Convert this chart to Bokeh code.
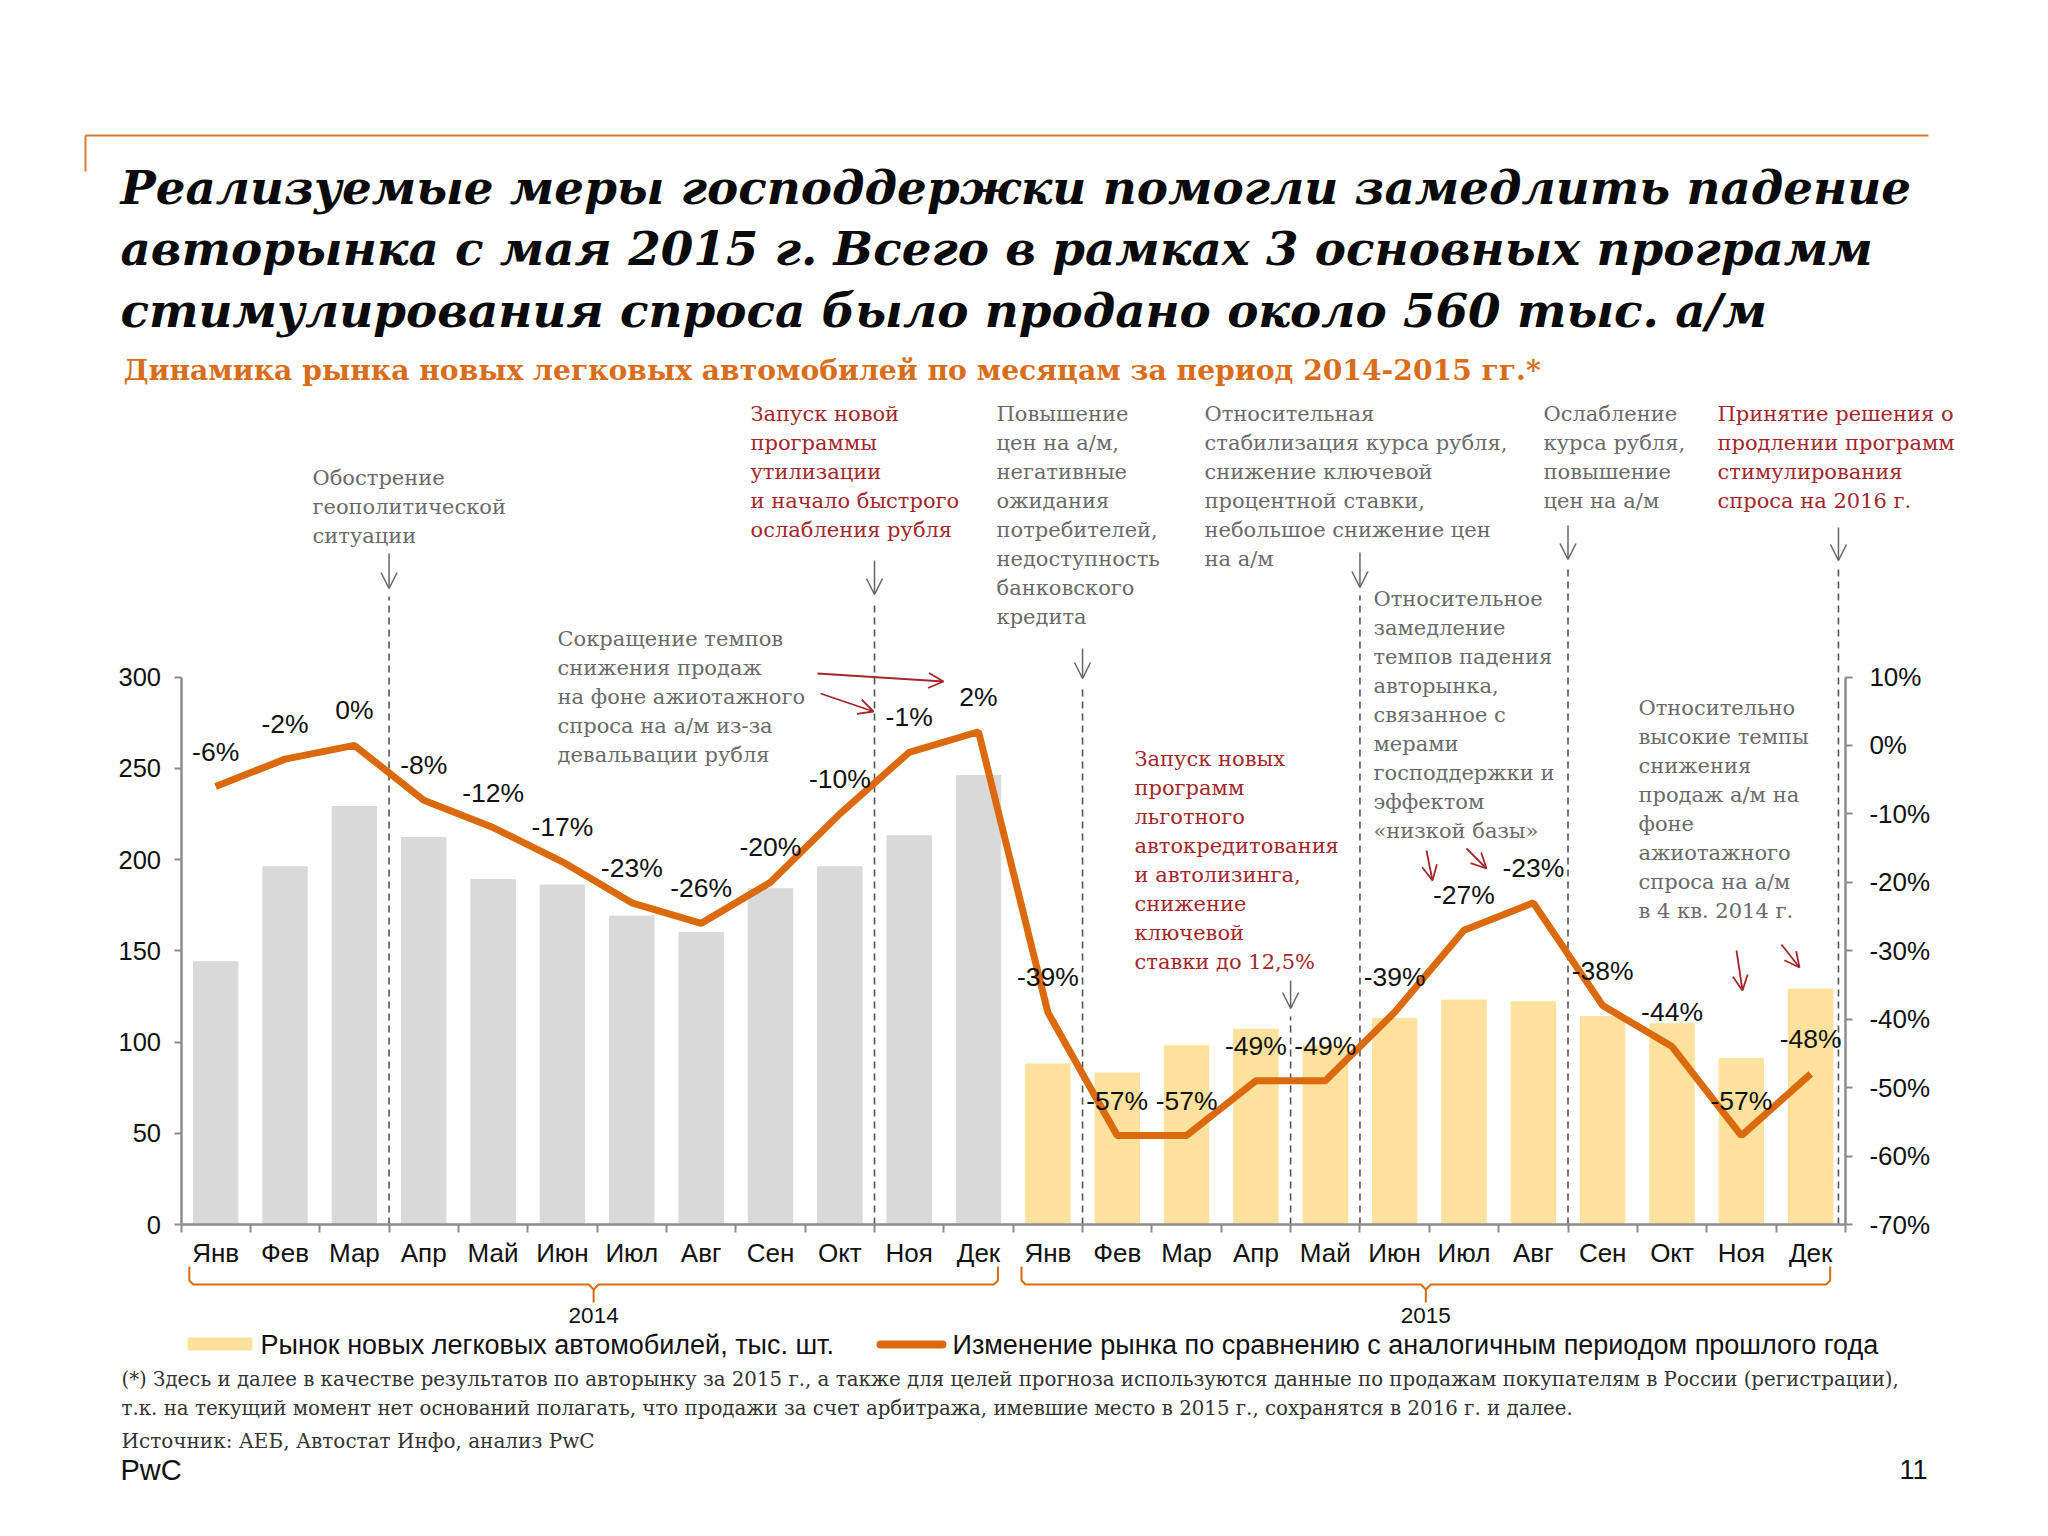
from bokeh.plotting import figure
from bokeh.models import (Range1d, LinearAxis, FixedTicker, PrintfTickFormatter,
                          CustomJSTickFormatter, ColumnDataSource, Arrow, OpenHead)
from bokeh.core.properties import value
from bokeh.embed import file_html
from bokeh.resources import INLINE

# ---------------- data ----------------
months = ["Янв", "Фев", "Мар", "Апр", "Май", "Июн", "Июл", "Авг", "Сен", "Окт", "Ноя", "Дек"]
years = ["2014", "2015"]
sales_2014 = [144, 196, 229, 212, 189, 186, 169, 160, 184, 196, 213, 246]
sales_2015 = [88, 83, 98, 107, 98, 113, 123, 122, 114, 110, 91, 129]
change_2014 = [-6, -2, 0, -8, -12, -17, -23, -26, -20, -10, -1, 2]
change_2015 = [-39, -57, -57, -49, -49, -39, -27, -23, -38, -44, -57, -48]
left_ticks = [0, 50, 100, 150, 200, 250, 300]
right_ticks = [-70, -60, -50, -40, -30, -20, -10, 0, 10]
legend_bar = "Рынок новых легковых автомобилей, тыс. шт."
legend_line = "Изменение рынка по сравнению с аналогичным периодом прошлого года"

title_lines = ["Реализуемые меры господдержки помогли замедлить падение",
               "авторынка с мая 2015 г. Всего в рамках 3 основных программ",
               "стимулирования спроса было продано около 560 тыс. а/м"]
subtitle = "Динамика рынка новых легковых автомобилей по месяцам за период 2014-2015 гг.*"
footnote = ["(*) Здесь и далее в качестве результатов по авторынку за 2015 г., а также для целей прогноза используются данные по продажам покупателям в России (регистрации),",
            "т.к. на текущий момент нет оснований полагать, что продажи за счет арбитража, имевшие место в 2015 г., сохранятся в 2016 г. и далее."]
source_note = "Источник: АЕБ, Автостат Инфо, анализ PwC"

# ---------------- styles ----------------
GRAY_BAR = "#D9D9D9"
YELLOW_BAR = "#FEE19C"
ORANGE = "#DB6A0E"
RED_TXT = "#A3262B"
GRAY_TXT = "#6A6A6A"
AXIS = "#8C8C8C"
SERIF = "DejaVu Serif"
SANS = "Liberation Sans"

# pixel <-> data helpers (reference pixel coordinates)
X0, DXP = 180.5, 69.35
Y0, DYP = 1224.0, 547.5 / 300.0
W, H = 2032, 1520
OFF = 0


def dx(px):
    return (px - X0) / DXP


def dy(py):
    return (Y0 - py) / DYP


def to_pct(y):
    return -70 + y * 80.0 / 300.0


x_range = Range1d(dx(OFF), dx(OFF + W))
y_range = Range1d(dy(OFF + H), dy(OFF))

p = figure(width=W, height=H, x_range=x_range, y_range=y_range,
           output_backend="svg", toolbar_location=None, min_border=0,
           x_axis_location=None, y_axis_location=None, outline_line_color=None,
           background_fill_color="white", border_fill_color="white")
p.grid.visible = False
p.extra_y_ranges = {"pct": Range1d(to_pct(y_range.start), to_pct(y_range.end))}

n = len(months) * len(years)
xc = [i + 0.5 for i in range(n)]
sales = sales_2014 + sales_2015
changes = change_2014 + change_2015
colors = [GRAY_BAR] * len(sales_2014) + [YELLOW_BAR] * len(sales_2015)
labels = [f"{v}%" for v in changes]

src = ColumnDataSource(dict(x=xc, sales=sales, change=changes, color=colors, label=labels))

# bars
p.vbar(x="x", top="sales", bottom=0, width=0.64, color="color", source=src)

# axes
xaxis = LinearAxis(fixed_location=0, bounds=(0, n),
                   ticker=FixedTicker(ticks=xc, minor_ticks=list(range(n + 1))),
                   formatter=CustomJSTickFormatter(args=dict(m=months * len(years)),
                                                   code="return m[Math.floor(tick)]"))
xaxis.axis_line_color = AXIS
xaxis.axis_line_width = 2.5
xaxis.major_tick_out = 0
xaxis.major_tick_in = 0
xaxis.minor_tick_out = 8
xaxis.minor_tick_in = 0
xaxis.minor_tick_line_color = AXIS
xaxis.minor_tick_line_width = 2
xaxis.major_label_standoff = 5
xaxis.major_label_text_font = SANS
xaxis.major_label_text_font_size = "26px"
xaxis.major_label_text_color = "#111111"
p.add_layout(xaxis, "below")

laxis = LinearAxis(fixed_location=0, bounds=(0, 300), ticker=FixedTicker(ticks=left_ticks))
laxis.axis_line_color = AXIS
laxis.axis_line_width = 2.5
laxis.major_tick_out = 7
laxis.major_tick_in = 0
laxis.major_tick_line_color = AXIS
laxis.major_tick_line_width = 2
laxis.minor_tick_line_color = None
laxis.major_label_standoff = 13
laxis.major_label_text_font = SANS
laxis.major_label_text_font_size = "25.5px"
laxis.major_label_text_color = "#111111"
p.add_layout(laxis, "left")

raxis = LinearAxis(fixed_location=n, y_range_name="pct", bounds=(-70, 10),
                   ticker=FixedTicker(ticks=right_ticks),
                   formatter=PrintfTickFormatter(format="%d%%"))
raxis.axis_line_color = AXIS
raxis.axis_line_width = 2.5
raxis.major_tick_out = 7
raxis.major_tick_in = 0
raxis.major_tick_line_color = AXIS
raxis.major_tick_line_width = 2
raxis.minor_tick_line_color = None
raxis.major_label_standoff = 17
raxis.major_label_text_font = SANS
raxis.major_label_text_font_size = "26px"
raxis.major_label_text_color = "#111111"
p.add_layout(raxis, "right")

# event markers: boundary position, arrow top (px), arrow tip (px)
events = [(3, 553, 588), (10, 560, 594), (13, 648, 678), (16, 980, 1008),
          (17, 552, 587), (20, 525, 559), (23.9, 527, 560)]
p.segment(x0=[e[0] for e in events], y0=[0] * len(events),
          x1=[e[0] for e in events], y1=[dy(e[2] + 8) for e in events],
          line_color="#555555", line_width=1.6, line_dash="7 5")
for bx, top, tip in events:
    p.add_layout(Arrow(x_start=bx, y_start=dy(top), x_end=bx, y_end=dy(tip),
                       line_color="#666666", line_width=1.5,
                       end=OpenHead(size=16, line_color="#666666", line_width=1.5)))

red_arrows = [((817, 673), (943, 681)), ((820, 693), (873, 711)),
              ((1426, 850), (1432, 880)), ((1466, 848), (1486, 868)),
              ((1736, 950), (1742, 990)), ((1781, 944), (1799, 967))]
for (ax0, ay0), (ax1, ay1) in red_arrows:
    p.add_layout(Arrow(x_start=dx(ax0), y_start=dy(ay0), x_end=dx(ax1), y_end=dy(ay1),
                       line_color=RED_TXT, line_width=1.8,
                       end=OpenHead(size=15, line_color=RED_TXT, line_width=1.8)))

# change line
p.line(x="x", y="change", source=src, y_range_name="pct", line_color=ORANGE, line_width=7)
p.text(x="x", y="change", text="label", source=src, y_range_name="pct", y_offset=-35,
       text_align="center", text_baseline="middle", text_font=value(SANS),
       text_font_size="26.5px", text_color="#111111")


def add_lines(lines, x_px, y0_px, step, color, font, size, style="normal", align="left"):
    s = ColumnDataSource(dict(x=[dx(x_px)] * len(lines),
                              y=[dy(y0_px + k * step) for k in range(len(lines))],
                              t=lines))
    p.text(x="x", y="y", text="t", source=s, text_color=color, text_font=value(font),
           text_font_size=size, text_font_style=style, text_baseline="middle",
           text_align=align)


# annotations
ann = [
    (["Обострение", "геополитической", "ситуации"], 312, 477, GRAY_TXT),
    (["Запуск новой", "программы", "утилизации", "и начало быстрого", "ослабления рубля"], 750, 413, RED_TXT),
    (["Повышение", "цен на а/м,", "негативные", "ожидания", "потребителей,", "недоступность",
      "банковского", "кредита"], 996, 413, GRAY_TXT),
    (["Сокращение темпов", "снижения продаж", "на фоне ажиотажного", "спроса на а/м из-за",
      "девальвации рубля"], 557, 638, GRAY_TXT),
    (["Относительная", "стабилизация курса рубля,", "снижение ключевой", "процентной ставки,",
      "небольшое снижение цен", "на а/м"], 1204, 413, GRAY_TXT),
    (["Ослабление", "курса рубля,", "повышение", "цен на а/м"], 1543, 413, GRAY_TXT),
    (["Принятие решения о", "продлении программ", "стимулирования", "спроса на 2016 г."], 1717, 413, RED_TXT),
    (["Относительное", "замедление", "темпов падения", "авторынка,", "связанное с", "мерами",
      "господдержки и", "эффектом", "«низкой базы»"], 1373, 598, GRAY_TXT),
    (["Запуск новых", "программ", "льготного", "автокредитования", "и автолизинга,", "снижение",
      "ключевой", "ставки до 12,5%"], 1134, 758, RED_TXT),
    (["Относительно", "высокие темпы", "снижения", "продаж а/м на", "фоне", "ажиотажного",
      "спроса на а/м", "в 4 кв. 2014 г."], 1638, 707, GRAY_TXT),
]
for lines, ax, ay, col in ann:
    add_lines(lines, ax, ay, 29, col, SERIF, "21px")

# year brackets
corner = dx(185) - dx(181)
for k, yr in enumerate(years):
    left = k * 12 + 0.12
    right = k * 12 + 11.78
    mid = (left + right) / 2
    p.multi_line(xs=[[left, left, left + corner, mid - 0.07, mid, mid],
                     [mid, mid + 0.07, right - corner, right, right]],
                 ys=[[dy(1266), dy(1280), dy(1284), dy(1284), dy(1289), dy(1302)],
                     [dy(1289), dy(1284), dy(1284), dy(1280), dy(1266)]],
                 line_color=ORANGE, line_width=2)
    p.text(x=[mid], y=[dy(1315)], text=[yr], text_align="center", text_baseline="middle",
           text_font=value(SANS), text_font_size="22.5px", text_color="#111111")

# legend
p.quad(left=[dx(187)], right=[dx(252)], bottom=[dy(1350)], top=[dy(1337)],
       color=YELLOW_BAR, line_color=None)
p.line(x=[dx(880), dx(942)], y=[dy(1344), dy(1344)], line_color=ORANGE, line_width=8,
       line_cap="round")
add_lines([legend_bar], 260, 1344, 0, "#111111", SANS, "27px")
add_lines([legend_line], 952, 1344, 0, "#111111", SANS, "27px")

# title block
p.segment(x0=[dx(85), dx(85)], y0=[dy(135), dy(135)], x1=[dx(1928), dx(85)],
          y1=[dy(135), dy(171)], line_color="#DA7A2A", line_width=2)
add_lines(title_lines, 120, 187, 61.3, "#0A0A0A", SERIF, "46.8px", "bold italic")
add_lines([subtitle], 123, 370, 0, "#D86E1C", SERIF, "28.2px", "bold")

# footer
add_lines(footnote, 121, 1379, 29, "#333333", SERIF, "19.8px")
add_lines([source_note], 121, 1440, 0, "#333333", SERIF, "20px")
add_lines(["PwC"], 120, 1469, 0, "#111111", SANS, "29px")
add_lines(["11"], 1927, 1469, 0, "#111111", SANS, "27px", "normal", "right")

open("out.html", "w").write(file_html(p, INLINE))
